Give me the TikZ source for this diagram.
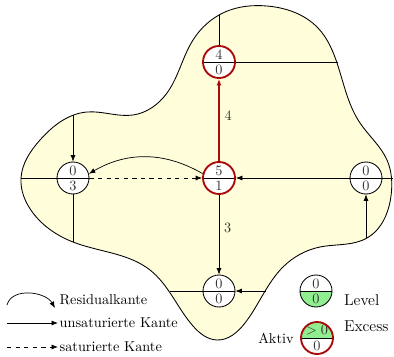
\documentclass[tikz,border=0pt]{standalone}
\usepackage{tikz}
\usetikzlibrary{arrows.meta, positioning, hobby}

\definecolor{blobfill}{RGB}{255,253,218}
\definecolor{levelgreen}{RGB}{144,238,144}
\definecolor{activered}{RGB}{170,10,10}

% two halves of a vertex: upper text, lower text, upper fill, lower fill
\newcommand{\halves}[4]{%
  \fill[#3] (path picture bounding box.north west) rectangle (path picture bounding box.east);
  \fill[#4] (path picture bounding box.west) rectangle (path picture bounding box.south east);
  \draw[black, line width=0.5pt] (path picture bounding box.west) -- (path picture bounding box.east);
  \node[inner sep=0pt, text=black!80] at ([yshift=5.3pt]path picture bounding box.center) {#1};
  \node[inner sep=0pt, text=black!80] at ([yshift=-5.3pt]path picture bounding box.center) {#2};}

\begin{document}
\begin{tikzpicture}[
  x=0.7pt, y=0.7pt,
  vbase/.style={
    circle,
    draw=black,
    line width=0.6pt,
    fill=white,
    minimum size=22.4pt,
    inner sep=0pt
  },
  active/.style={
    draw=activered,
    line width=1.3pt
  },
  vtx/.style 2 args={vbase, path picture={\halves{#1}{#2}{white}{white}}},
  lvl/.style 2 args={vbase, path picture={\halves{#1}{#2}{white}{levelgreen}}},
  exc/.style 2 args={vbase, active, path picture={\halves{#1}{#2}{levelgreen}{white}}},
  edge/.style={
    draw=black,
    line width=0.5pt
  },
  arrow/.style={
    edge,
    -{Latex[length=4.5pt, width=3.5pt]}
  },
  redarrow/.style={
    draw=activered,
    line width=1.2pt,
    -{Latex[length=4.5pt, width=3.5pt]}
  }
]
\useasboundingbox (0,0) rectangle (394,356);

% Region
\draw[fill=blobfill, line width=0.6pt, use Hobby shortcut, closed=true]
  (21,178) .. (40,216) .. (87,244) .. (133,241) .. (167,263)
  .. (193,316) .. (225,344) .. (267,350) .. (318,328) .. (338,290)
  .. (360,233) .. (387,196) .. (391,160) .. (367,118) .. (320,109)
  .. (283,89) .. (245,33) .. (217,16) .. (193,30) .. (150,86)
  .. (73,114) .. (33,143);

% Vertices
\node[vtx={4}{0}, active] (top) at (219,294) {};
\node[vtx={5}{1}, active] (mid) at (219,178) {};
\node[vtx={0}{3}] (left) at (73,178) {};
\node[vtx={0}{0}] (right) at (366,178) {};
\node[vtx={0}{0}] (bot) at (219,65) {};

% Ends on the border
\coordinate (topN) at (219,341);
\coordinate (topE) at (338,294);
\coordinate (leftN) at (73,241);
\coordinate (leftW) at (21,178);
\coordinate (leftS) at (73,114);
\coordinate (rightE) at (393,178);
\coordinate (rightS) at (366,118);
\coordinate (botW) at (170,65);
\coordinate (botE) at (266,65);

% Edges
\draw[edge] (topN) -- (top.north);
\draw[edge] (top.east) -- (topE);
\draw[arrow] (leftN) -- (left.north);
\draw[edge] (leftW) -- (left.west);
\draw[edge] (left.south) -- (leftS);
\draw[arrow, dashed] (left.east) -- (mid.west);
\draw[arrow] (mid.165) to[bend right=30] (left.15);
\draw[redarrow] (mid.north) -- node[pos=0.55, right, text=black!80] {4} (top.south);
\draw[arrow] (mid.south) -- node[pos=0.42, right, text=black!80] {3} (bot.north);
\draw[arrow] (right.west) -- (mid.east);
\draw[edge] (right.east) -- (rightE);
\draw[arrow] (rightS) -- (right.south);
\draw[edge] (botW) -- (bot.west);
\draw[arrow] (botE) -- (bot.east);

% Legend, edges
\coordinate (resA) at (7,51);
\coordinate (resB) at (55,48);
\coordinate (unsA) at (7,33);
\coordinate (unsB) at (58,33);
\coordinate (satA) at (7,9);
\coordinate (satB) at (58,9);
\draw[arrow] (resA) to[out=75, in=120] (resB);
\draw[arrow] (unsA) -- (unsB);
\draw[arrow, dashed] (satA) -- (satB);
\node[anchor=west, inner sep=1pt] (resT) at (58,56) {Residualkante};
\node[anchor=west, inner sep=1pt] (unsT) at (58,33) {unsaturierte Kante};
\node[anchor=west, inner sep=1pt] (satT) at (58,9) {saturierte Kante};

% Legend, vertices
\node[lvl={0}{0}] (lvlV) at (316,65) {};
\node[exc={$>0$}{0}] (excV) at (317,18) {};
\node[anchor=west, font=\fontsize{11}{13}\selectfont] (lvlT) at (339,56) {Level};
\node[anchor=west, font=\fontsize{11}{13}\selectfont] (excT) at (339,30) {Excess};
\node[left=1pt of excV] (aktT) {Aktiv};

\end{tikzpicture}
\end{document}
